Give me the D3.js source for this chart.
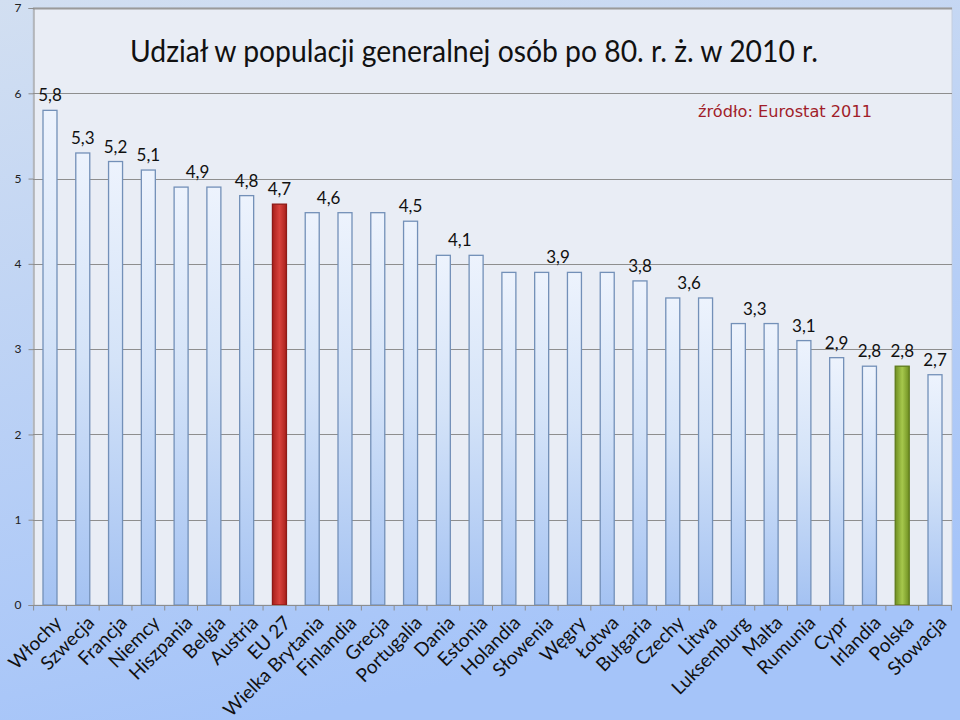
<!DOCTYPE html>
<html><head><meta charset="utf-8">
<script src="https://cdn.jsdelivr.net/npm/d3@7"></script>
<style>html,body{margin:0;padding:0;background:#fff}svg{display:block}</style>
</head><body>
<script>
const categories = ["Włochy","Szwecja","Francja","Niemcy","Hiszpania","Belgia","Austria","EU 27","Wielka Brytania","Finlandia","Grecja","Portugalia","Dania","Estonia","Holandia","Słowenia","Węgry","Łotwa","Bułgaria","Czechy","Litwa","Luksemburg","Malta","Rumunia","Cypr","Irlandia","Polska","Słowacja"];
const values = [5.8,5.3,5.2,5.1,4.9,4.9,4.8,4.7,4.6,4.6,4.6,4.5,4.1,4.1,3.9,3.9,3.9,3.9,3.8,3.6,3.6,3.3,3.3,3.1,2.9,2.8,2.8,2.7];
const highlight = {"EU 27":"red","Polska":"green"};
// data labels: [first index, last index, value] (shown once per group of equal bars)
const labelGroups = [[0,0,5.8],[1,1,5.3],[2,2,5.2],[3,3,5.1],[4,5,4.9],[6,6,4.8],[7,7,4.7],[8,9,4.6],[11,11,4.5],[12,13,4.1],[14,17,3.9],[18,18,3.8],[19,20,3.6],[21,22,3.3],[23,23,3.1],[24,24,2.9],[25,25,2.8],[26,26,2.8],[27,27,2.7]];
const yTicks = [0,1,2,3,4,5,6,7];
const title = "Udział w populacji generalnej osób po 80. r. ż. w 2010 r.";
const source = "źródło: Eurostat 2011";

(function(){
const W = 960, H = 720;
const svg = d3.select("body").append("svg").attr("width", W).attr("height", H);
const defs = svg.append("defs");

const bg = defs.append("linearGradient").attr("id","bg").attr("x1",0).attr("y1",0).attr("x2",0.3).attr("y2",1);
bg.append("stop").attr("offset","0%").attr("stop-color","#d2dff1");
bg.append("stop").attr("offset","100%").attr("stop-color","#a5c4f9");

const bar = defs.append("linearGradient").attr("id","barg").attr("x1",0).attr("y1",0).attr("x2",0).attr("y2",1);
bar.append("stop").attr("offset","0%").attr("stop-color","#edf3fd");
bar.append("stop").attr("offset","45%").attr("stop-color","#d4e3f8");
bar.append("stop").attr("offset","100%").attr("stop-color","#a4c2f2");

function hgrad(id, edge, mid){
  const g = defs.append("linearGradient").attr("id",id).attr("x1",0).attr("y1",0).attr("x2",1).attr("y2",0);
  g.append("stop").attr("offset","0%").attr("stop-color",edge);
  g.append("stop").attr("offset","50%").attr("stop-color",mid);
  g.append("stop").attr("offset","100%").attr("stop-color",edge);
}
hgrad("redg","#a8201c","#d8423c");
hgrad("greeng","#6f8f22","#a6c84c");

svg.append("rect").attr("width",W).attr("height",H).attr("fill","url(#bg)");

const pl = 33, pr = 952, pt = 8, pb = 605;
const x = d3.scaleBand().domain(categories).range([pl, pr]).paddingInner(0.573).paddingOuter(0.305);
const y = d3.scaleLinear().domain([0,7]).range([pb, pt]);

svg.append("rect").attr("x",pl).attr("y",pt).attr("width",pr-pl).attr("height",pb-pt)
  .attr("fill","#e9edf5").attr("stroke","#c4cede").attr("stroke-width",1);

// gridlines
svg.append("g").selectAll("line").data(yTicks).join("line")
  .attr("x1",pl).attr("x2",pr)
  .attr("y1",d=>Math.round(y(d))+0.5).attr("y2",d=>Math.round(y(d))+0.5)
  .attr("stroke",d=>d===7?"#9a9a9a":"#8e8e8e").attr("stroke-width",d=>d===7?2:1);

// y axis
const ya = svg.append("g").attr("transform",`translate(${pl+0.5},0)`)
  .call(d3.axisLeft(y).tickValues(yTicks).tickSize(5).tickPadding(7).tickFormat(d3.format("d")));
ya.select(".domain").attr("stroke","#8e8e8e");
ya.selectAll(".tick line").attr("stroke","#8e8e8e");
ya.selectAll("text").attr("font-family","Lato, sans-serif").attr("font-size",12).attr("fill","#222");

// bars
svg.append("g").selectAll("rect").data(categories).join("rect")
  .attr("x",d=>x(d)).attr("width",x.bandwidth())
  .attr("y",(d,i)=>y(values[i])).attr("height",(d,i)=>y(0)-y(values[i]))
  .attr("fill",d=>highlight[d]==="red"?"url(#redg)":highlight[d]==="green"?"url(#greeng)":"url(#barg)")
  .attr("stroke",d=>highlight[d]==="red"?"#8e1a16":highlight[d]==="green"?"#5f7c1c":"#7390b8")
  .attr("stroke-width",1.3);

// x axis
const xa = svg.append("g").attr("transform",`translate(0,${pb+0.5})`);
xa.append("line").attr("x1",pl).attr("x2",pr).attr("stroke","#8e8e8e");
const step = x.step();
xa.selectAll("line.tk").data(d3.range(categories.length+1)).join("line").attr("class","tk")
  .attr("x1",i=>x(categories[0]) - (step - x.bandwidth())/2 + i*step)
  .attr("x2",i=>x(categories[0]) - (step - x.bandwidth())/2 + i*step)
  .attr("y1",0).attr("y2",5).attr("stroke","#8e8e8e");
xa.selectAll("text").data(categories).join("text")
  .attr("transform",d=>`translate(${x(d)+x.bandwidth()/2+3},${9}) rotate(-45)`)
  .attr("text-anchor","end").attr("dy","0.72em")
  .attr("font-family","Lato, sans-serif").attr("font-size",19).attr("fill","#111")
  .text(d=>d);

// data labels
const fmt = v => String(v).replace(".", ",");
svg.append("g").selectAll("text").data(labelGroups).join("text")
  .attr("x",g=>(x(categories[g[0]])+x(categories[g[1]]))/2 + x.bandwidth()/2)
  .attr("y",g=>y(g[2]) - 9)
  .attr("text-anchor","middle").attr("font-family","Lato, sans-serif").attr("font-size",17).attr("fill","#111")
  .text(g=>fmt(g[2]));

// title & source
svg.append("text").attr("x",130).attr("y",62).attr("font-family","Lato, sans-serif").attr("font-size",30)
  .attr("fill","#111").attr("textLength",688).attr("lengthAdjust","spacingAndGlyphs").text(title);
svg.append("text").attr("x",698).attr("y",117).attr("font-family","'DejaVu Sans', sans-serif").attr("font-size",15)
  .attr("fill","#a11d2a").attr("textLength",174).attr("lengthAdjust","spacingAndGlyphs").text(source);
})();
</script>
</body></html>
